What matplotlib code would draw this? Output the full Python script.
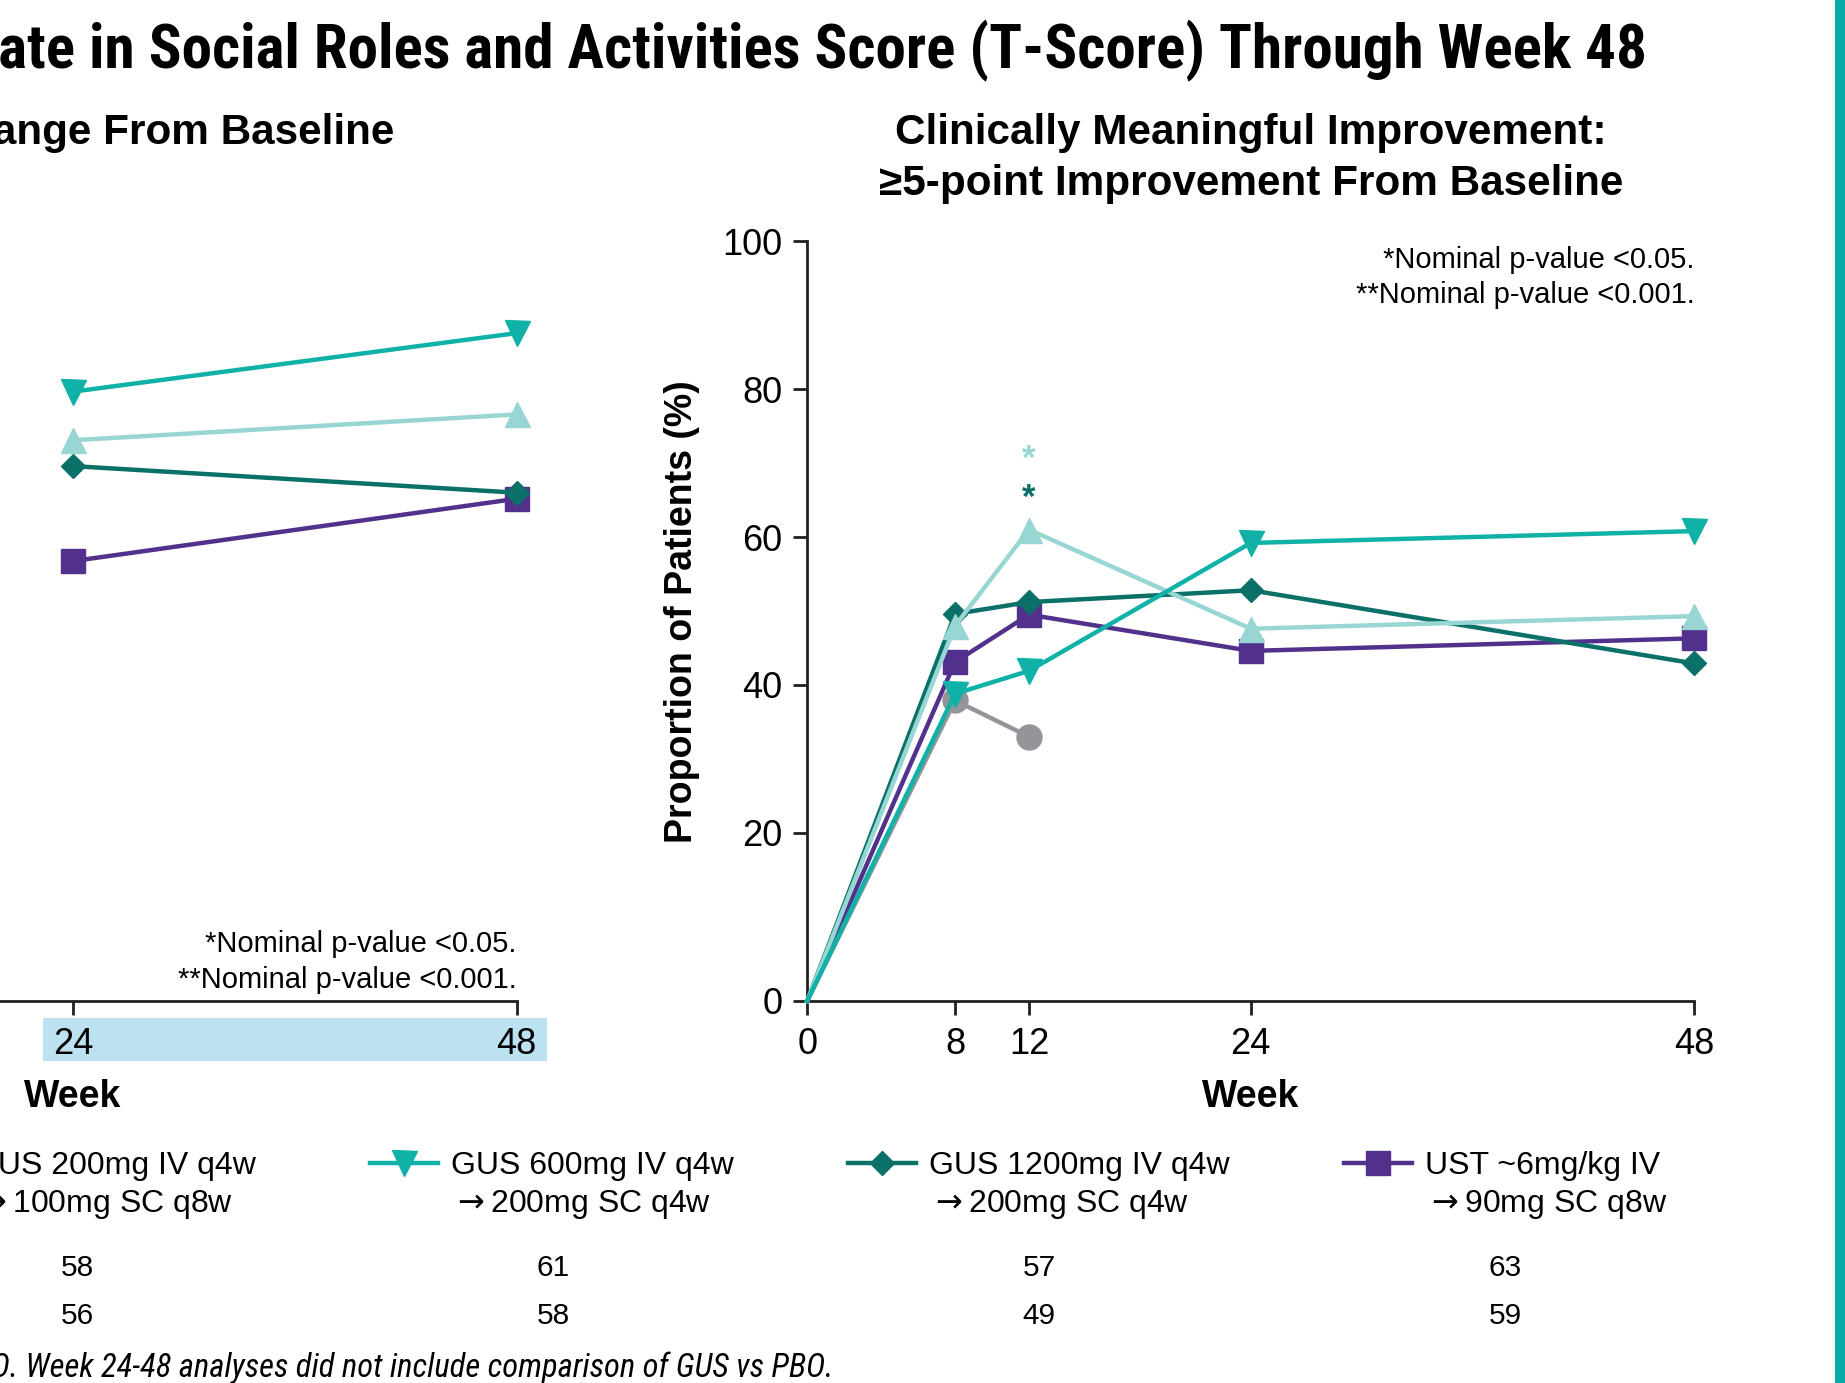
import os
import numpy as np
import matplotlib
matplotlib.use("Agg")
import matplotlib.pyplot as plt
from matplotlib import font_manager as fm
from matplotlib.lines import Line2D
from matplotlib.patches import Rectangle
from matplotlib.transforms import blended_transform_factory

# ---------------- data ----------------
weeks = [0, 8, 12, 24, 48]
cmi_gus200 = [0, 48.0, 61.0, 47.6, 49.3]
cmi_gus600 = [0, 38.8, 41.9, 59.2, 60.8]
cmi_gus1200 = [0, 49.6, 51.2, 52.8, 42.9]
cmi_ust = [0, 43.1, 49.5, 44.6, 46.3]
pbo_weeks = [0, 8, 12]
cmi_pbo = [0, 37.9, 33.0]

ls_weeks = [24, 48]
ls_gus200 = [7.38, 7.72]
ls_gus600 = [8.02, 8.79]
ls_gus1200 = [7.04, 6.69]
ls_ust = [5.79, 6.61]

legend_line1 = ["GUS 200mg IV q4w", "GUS 600mg IV q4w", "GUS 1200mg IV q4w", "UST ~6mg/kg IV"]
legend_line2 = [r"$\rightarrow$100mg SC q8w", r"$\rightarrow$200mg SC q4w",
                r"$\rightarrow$200mg SC q4w", r"$\rightarrow$90mg SC q8w"]
n_row1 = [58, 61, 57, 63]
n_row2 = [56, 58, 49, 59]

TITLE = "Ability to Participate in Social Roles and Activities Score (T-Score) Through Week 48"
TITLE_SHOWN = "ate in Social Roles and Activities Score (T-Score) Through Week 48"
FOOT = "PBO. Week 24-48 analyses did not include comparison of GUS vs PBO."
FOOT_SHOWN = "Week 24-48 analyses did not include comparison of GUS vs PBO."

# ---------------- style ----------------
C_LIGHT = "#98D6D3"
C_TEAL = "#10B2A8"
C_DARK = "#0A7068"
C_PURPLE = "#52318C"
C_GRAY = "#939598"
C_AXIS = "#231F20"

SANS = ["Liberation Sans", "DejaVu Sans"]
plt.rcParams["font.family"] = SANS
plt.rcParams["mathtext.fontset"] = "dejavusans"


def _weight(w):
    if isinstance(w, str):
        return fm.weight_dict.get(w, 400)
    return int(w)


def pick_condensed(bold, italic):
    """Find an installed condensed / narrow face, or None."""
    prefs = ["liberation sans narrow", "roboto condensed", "dejavu sans condensed",
             "dejavu sans", "open sans condensed", "noto sans"]
    best = None
    for f in fm.fontManager.ttflist:
        name = f.name.lower()
        fn = os.path.basename(f.fname).lower()
        cond = ("condensed" in name or "narrow" in name or "condensed" in fn
                or "narrow" in fn or str(f.stretch) in ("condensed", "semi-condensed"))
        if not cond or "extra" in fn or "semi" in fn:
            continue
        w = _weight(f.weight)
        if bold and w < 600:
            continue
        if not bold and (w >= 600 or w < 350):
            continue
        is_it = f.style in ("italic", "oblique")
        if is_it != italic:
            continue
        rank = next((i for i, p in enumerate(prefs) if name.startswith(p)), len(prefs))
        if best is None or rank < best[0]:
            best = (rank, f.fname)
    return best[1] if best else None


W, H = 1845, 1383
fig = plt.figure(figsize=(W / 100, H / 100), dpi=100)
fig.patch.set_facecolor("white")
renderer = fig.canvas.get_renderer()


def fx(px):
    return px / W


def fy(py):
    return (H - py) / H


def fitted_props(shown, target_px, max_size, bold, italic):
    path = pick_condensed(bold, italic)
    if path is not None:
        fp = fm.FontProperties(fname=path)
    else:
        fp = fm.FontProperties(family=SANS, weight="bold" if bold else "normal",
                               style="italic" if italic else "normal")
    fp.set_size(100)
    t = fig.text(0, 0, shown, fontproperties=fp)
    width = t.get_window_extent(renderer).width
    t.remove()
    fp.set_size(min(max_size, 100 * target_px / width))
    return fp


LW = 3.2
series = [
    (C_LIGHT, "^", 18.0),
    (C_TEAL, "v", 18.0),
    (C_DARK, "D", 12.5),
    (C_PURPLE, "s", 17.0),
]
draw_order = (3, 2, 0, 1)
zorders = {3: 3, 2: 4, 0: 5, 1: 6}

ax_bottom = fy(1001)
ax_height = (1001 - 241.2) / H
ax_width = 887.2 / W

# ---------------- left panel: LS mean change ----------------
ax_l = fig.add_axes([fx(807.2 - 1177.8), ax_bottom, ax_width, ax_height])
ax_l.set_xlim(0, 48)
ax_l.set_ylim(0, 10)
for side in ("top", "right", "left"):
    ax_l.spines[side].set_visible(False)
ax_l.spines["bottom"].set_linewidth(2.0)
ax_l.spines["bottom"].set_color(C_AXIS)
ax_l.set_yticks([])
ax_l.set_xticks([24, 48])
ax_l.tick_params(axis="x", length=10, width=2, color=C_AXIS, labelsize=26, pad=8.5)

# maintenance-period highlight behind the week tick labels
trans_l = blended_transform_factory(ax_l.transData, ax_l.transAxes)
ax_l.add_patch(Rectangle((22.4, -0.0786), 49.65 - 22.4, 0.0566, transform=trans_l,
                         facecolor="#BCE2F2", edgecolor="none", clip_on=False, zorder=0))

ls_vals = [ls_gus200, ls_gus600, ls_gus1200, ls_ust]
for k in draw_order:
    col, mk, ms = series[k]
    ax_l.plot(ls_weeks, ls_vals[k], color=col, marker=mk, ms=ms, lw=LW,
              mec=col, zorder=zorders[k], clip_on=False)

ax_l.set_xlabel("Week", fontsize=27, fontweight="bold", va="center")
ax_l.xaxis.set_label_coords(0.5, -0.1264)

fig.text(fx(516.6), fy(944.4), "*Nominal p-value <0.05.", ha="right", va="center", fontsize=21)
fig.text(fx(516.6), fy(979.7), "**Nominal p-value <0.001.", ha="right", va="center", fontsize=21)
fig.text(fx(73), fy(132.9), "LS Mean Change From Baseline", ha="center", va="center",
         fontsize=30.4, fontweight="bold")

# ---------------- right panel: clinically meaningful improvement ----------------
ax_r = fig.add_axes([fx(807.2), ax_bottom, ax_width, ax_height])

S_LOW = 168 / 147.75


def fwd(y):
    y = np.asarray(y, dtype=float)
    return np.where(y < 20, y * S_LOW, 20 * S_LOW + (y - 20))


def inv(u):
    u = np.asarray(u, dtype=float)
    return np.where(u < 20 * S_LOW, u / S_LOW, u - 20 * S_LOW + 20)


ax_r.set_yscale("function", functions=(fwd, inv))
ax_r.set_xlim(0, 48)
ax_r.set_ylim(0, 100)
for side in ("top", "right"):
    ax_r.spines[side].set_visible(False)
for side in ("bottom", "left"):
    ax_r.spines[side].set_linewidth(2.0)
    ax_r.spines[side].set_color(C_AXIS)
ax_r.set_xticks([0, 8, 12, 24, 48])
ax_r.set_yticks([0, 20, 40, 60, 80, 100])
ax_r.yaxis.set_minor_locator(matplotlib.ticker.NullLocator())
ax_r.set_yticklabels(["0", "20", "40", "60", "80", "100"])
ax_r.tick_params(axis="both", length=10, width=2, color=C_AXIS, labelsize=26)
ax_r.tick_params(axis="x", pad=8.5)
ax_r.tick_params(axis="y", pad=8)

ax_r.plot(pbo_weeks, cmi_pbo, color=C_GRAY, marker="o", ms=18, lw=LW,
          markevery=[1, 2], zorder=2, clip_on=False)
cmi_vals = [cmi_gus200, cmi_gus600, cmi_gus1200, cmi_ust]
for k in draw_order:
    col, mk, ms = series[k]
    ax_r.plot(weeks, cmi_vals[k], color=col, marker=mk, ms=ms, lw=LW, mec=col,
              markevery=[1, 2, 3, 4], zorder=zorders[k], clip_on=False)

# significance marks at week 12
ax_r.text(12, 70.5, "*", color=C_LIGHT, ha="center", va="center", fontsize=25, fontweight="bold")
ax_r.text(12, 65.2, "*", color=C_DARK, ha="center", va="center", fontsize=25, fontweight="bold")

ax_r.set_xlabel("Week", fontsize=27, fontweight="bold", va="center")
ax_r.xaxis.set_label_coords(0.5, -0.1264)
fig.text(fx(682), fy(612), "Proportion of Patients (%)", rotation=90, ha="center",
         va="center", fontsize=27, fontweight="bold")

fig.text(fx(1694.4), fy(259.7), "*Nominal p-value <0.05.", ha="right", va="center", fontsize=21)
fig.text(fx(1694.4), fy(295), "**Nominal p-value <0.001.", ha="right", va="center", fontsize=21)
fig.text(fx(1250.8), fy(132.9), "Clinically Meaningful Improvement:", ha="center",
         va="center", fontsize=30.4, fontweight="bold")
fig.text(fx(1250.8), fy(183.5), "\u22655-point Improvement From Baseline", ha="center",
         va="center", fontsize=30.4, fontweight="bold")

# ---------------- main title (condensed bold) ----------------
title_fp = fitted_props(TITLE_SHOWN, 1647, 47, bold=True, italic=False)
fig.text(fx(1647), fy(50.5), TITLE, ha="right", va="center", fontproperties=title_fp)

# ---------------- legend ----------------
handles, labels = [], []
for i, (col, mk, ms) in enumerate(series):
    handles.append(Line2D([0], [0], color=col, marker=mk, ms=ms, lw=LW, mec=col))
    labels.append(legend_line1[i])
    handles.append(Line2D([], [], linestyle="none"))
    labels.append(legend_line2[i])
fig.legend(handles, labels, ncol=4, loc="upper left", bbox_to_anchor=(fx(-108), fy(1151)),
           frameon=False, borderpad=0, borderaxespad=0, handlelength=2.13,
           handletextpad=0.41, columnspacing=3.57, labelspacing=0.22, fontsize=23)

# ---------------- n table ----------------
col_x = [77.7, 553, 1039, 1505]
for x, a, b in zip(col_x, n_row1, n_row2):
    fig.text(fx(x), fy(1268.5), str(a), ha="center", va="center", fontsize=21.5)
    fig.text(fx(x), fy(1315.5), str(b), ha="center", va="center", fontsize=21.5)

# ---------------- footnote (condensed italic) ----------------
foot_fp = fitted_props(FOOT_SHOWN, 810, 24, bold=False, italic=True)
fig.text(fx(833), fy(1368), FOOT, ha="right", va="center", fontproperties=foot_fp)

# accent bar on the right edge
fig.add_artist(Rectangle((fx(1835), 0), fx(10), 1, transform=fig.transFigure,
                         facecolor="#0AABA6", edgecolor="none"))

fig.savefig("out.png", dpi=100)
